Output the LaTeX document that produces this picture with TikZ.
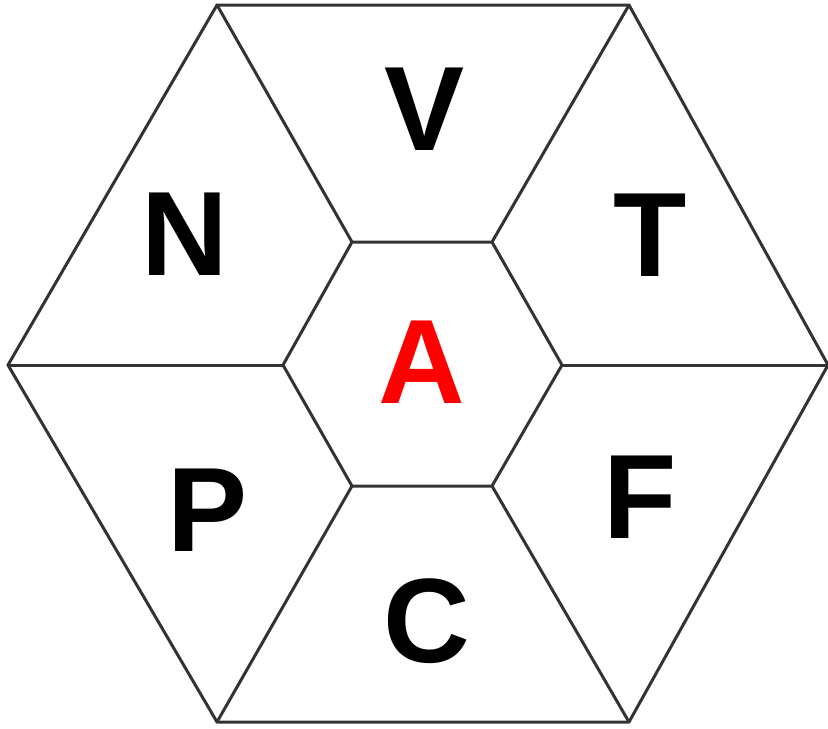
\documentclass[tikz,border=0pt]{standalone}
\usepackage{fontspec}
\setmainfont{Liberation Sans}
\begin{document}
\begin{tikzpicture}[x=0.5pt,y=-0.5pt, line join=round,line cap=round,
	edge/.style={draw=black!80, line width=1.5pt},
	letter/.style={font=\fontsize{60}{60}\selectfont\bfseries, inner sep=0pt}]
	\useasboundingbox (0,0) rectangle (828,728);
	% --- Outer hexagon ---
	\coordinate (o1) at (217,5);
	\coordinate (o2) at (629,5);
	\coordinate (o3) at (828,365);
	\coordinate (o4) at (629,722);
	\coordinate (o5) at (217,722);
	\coordinate (o6) at (8,365);
	% --- Inner hexagon ---
	\coordinate (i1) at (352,242);
	\coordinate (i2) at (492,242);
	\coordinate (i3) at (562,365);
	\coordinate (i4) at (492,486);
	\coordinate (i5) at (352,486);
	\coordinate (i6) at (283,365);
	
	\draw[edge] (o1)--(o2)--(o3)--(o4)--(o5)--(o6)--cycle;
	\draw[edge] (i1)--(i2)--(i3)--(i4)--(i5)--(i6)--cycle;
	\foreach \k in {1,...,6}
		\draw[edge] (i\k)--(o\k);
	
	% --- Letters ---
	\node[letter] (V) at (425,109) {V};
	\node[letter] (N) at (185,234) {N};
	\node[letter] (T) at (650,235) {T};
	\node[letter, red] (A) at (422,362) {A};
	\node[letter] (P) at (208,510) {P};
	\node[letter] (F) at (640,497) {F};
	\node[letter] (C) at (427,621) {C};
\end{tikzpicture}
\end{document}
